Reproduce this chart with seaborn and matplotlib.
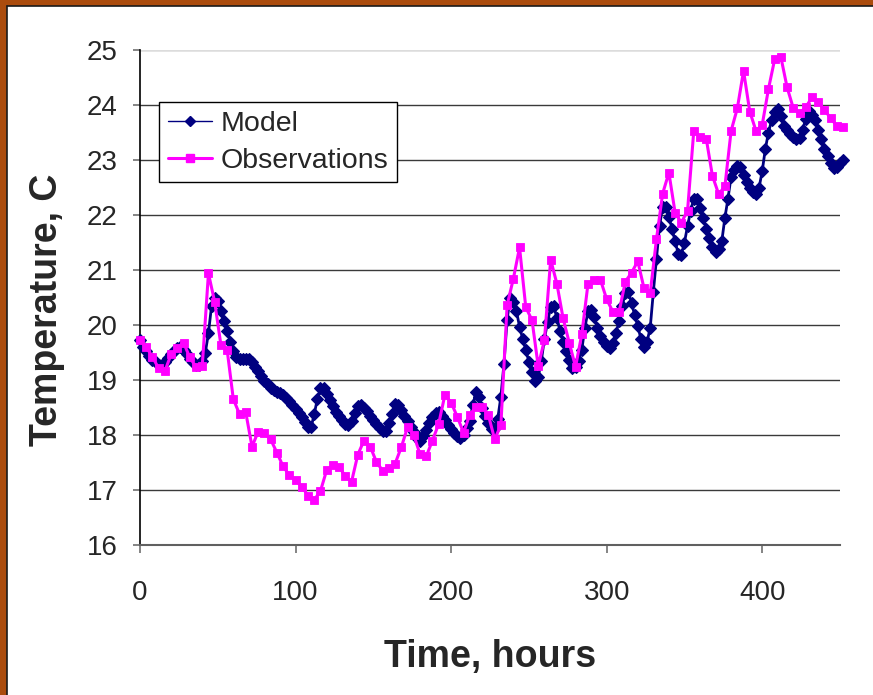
import numpy as np
import pandas as pd
import matplotlib
matplotlib.use("Agg")
import matplotlib.pyplot as plt
from matplotlib.patches import Rectangle
from matplotlib.lines import Line2D
import seaborn as sns

# ---------------- data ----------------
obs_step = 4      # hours between observations
model_step = 2    # hours between model outputs

observations = [
    19.72, 19.60, 19.42, 19.21, 19.16, 19.47, 19.58, 19.68, 19.41, 19.24,
    19.25, 20.94, 20.42, 19.64, 19.55, 18.65, 18.38, 18.41, 17.79, 18.06,
    18.03, 17.92, 17.68, 17.43, 17.27, 17.18, 17.06, 16.90, 16.82, 16.98,
    17.36, 17.45, 17.42, 17.25, 17.15, 17.64, 17.90, 17.79, 17.51, 17.35,
    17.40, 17.48, 17.78, 18.14, 18.00, 17.65, 17.61, 17.90, 18.20, 18.73,
    18.59, 18.33, 18.04, 18.37, 18.51, 18.51, 18.36, 17.92, 18.18, 20.36,
    20.84, 21.41, 20.32, 20.09, 19.25, 19.73, 21.19, 20.75, 20.12, 19.67,
    19.24, 19.83, 20.75, 20.81, 20.82, 20.47, 20.24, 20.24, 20.79, 20.95,
    21.16, 20.67, 20.58, 21.56, 22.39, 22.77, 22.04, 21.86, 22.08, 23.53,
    23.41, 23.39, 22.71, 22.38, 22.52, 23.53, 23.94, 24.62, 23.88, 23.53,
    23.64, 24.29, 24.83, 24.87, 24.32, 23.94, 23.85, 23.96, 24.14, 24.06,
    23.91, 23.76, 23.62, 23.60,
]

model = [
    19.72, 19.60, 19.52, 19.44, 19.37, 19.32, 19.28, 19.27, 19.32, 19.40,
    19.47, 19.53, 19.58, 19.60, 19.55, 19.47, 19.38, 19.32, 19.28, 19.27,
    19.35, 19.50, 19.85, 20.35, 20.50, 20.43, 20.25, 20.08, 19.90, 19.70,
    19.52, 19.42, 19.39, 19.39, 19.39, 19.38, 19.32, 19.24, 19.16, 19.08,
    18.99, 18.92, 18.86, 18.81, 18.78, 18.76, 18.72, 18.67, 18.62, 18.54,
    18.47, 18.40, 18.32, 18.24, 18.15, 18.14, 18.38, 18.65, 18.85, 18.85,
    18.75, 18.63, 18.52, 18.42, 18.35, 18.27, 18.20, 18.18, 18.26, 18.40,
    18.52, 18.55, 18.50, 18.43, 18.35, 18.27, 18.20, 18.13, 18.07, 18.08,
    18.22, 18.38, 18.57, 18.55, 18.45, 18.35, 18.25, 18.15, 18.05, 17.95,
    17.89, 17.98, 18.09, 18.22, 18.32, 18.40, 18.42, 18.35, 18.27, 18.18,
    18.10, 18.03, 17.98, 17.94, 18.00, 18.12, 18.25, 18.55, 18.78, 18.70,
    18.50, 18.35, 18.22, 18.10, 18.12, 18.30, 18.70, 19.30, 20.10, 20.50,
    20.42, 20.25, 19.97, 19.75, 19.55, 19.33, 19.15, 18.98, 19.05, 19.35,
    19.75, 20.05, 20.33, 20.35, 20.12, 19.90, 19.70, 19.52, 19.36, 19.22,
    19.23, 19.35, 19.55, 19.95, 20.25, 20.28, 20.15, 19.95, 19.80, 19.70,
    19.62, 19.58, 19.68, 19.85, 20.08, 20.35, 20.58, 20.60, 20.40, 20.18,
    19.98, 19.75, 19.60, 19.70, 19.95, 20.60, 21.20, 21.80, 22.15, 22.15,
    21.97, 21.75, 21.52, 21.30, 21.28, 21.50, 21.80, 22.08, 22.30, 22.30,
    22.12, 21.95, 21.75, 21.58, 21.42, 21.33, 21.38, 21.52, 21.95, 22.30,
    22.70, 22.82, 22.90, 22.88, 22.72, 22.60, 22.50, 22.42, 22.38, 22.50,
    22.80, 23.20, 23.50, 23.72, 23.88, 23.92, 23.80, 23.62, 23.55, 23.48,
    23.42, 23.38, 23.40, 23.55, 23.75, 23.90, 23.82, 23.72, 23.55, 23.38,
    23.20, 23.08, 22.95, 22.85, 22.88, 22.95, 23.00,
]

obs_time = np.arange(len(observations)) * obs_step
model_time = np.arange(len(model)) * model_step

x_ticks = [0, 100, 200, 300, 400]
y_ticks = list(range(16, 26))
series_names = ["Model", "Observations"]
x_label = "Time, hours"
y_label = "Temperature, C"

df_model = pd.DataFrame({"t": model_time, "T": model})
df_obs = pd.DataFrame({"t": obs_time, "T": observations})

# ---------------- style ----------------
sns.set_theme(style="white")
REG = ["Liberation Sans", "DejaVu Sans"]
plt.rcParams["font.family"] = REG

W, H = 873, 695
BROWN = "#AB4C0D"
fig = plt.figure(figsize=(W / 100, H / 100), dpi=100, facecolor=BROWN)
bg = Rectangle((7 / W, 0), 1 - 7 / W, (H - 6) / H, transform=fig.transFigure,
               facecolor="white", edgecolor="none", zorder=-10)
fig.add_artist(bg)
fig.add_artist(Line2D([7 / W, 7 / W], [0, (H - 6) / H], transform=fig.transFigure,
                      color="#1a1a1a", lw=1.2, zorder=-9))
fig.add_artist(Line2D([7 / W, 1], [(H - 6) / H, (H - 6) / H], transform=fig.transFigure,
                      color="#1a1a1a", lw=1.2, zorder=-9))

ax = fig.add_axes([140 / W, 150 / H, 700 / W, 495 / H])
ax.set_facecolor("white")

NAVY = "#000080"
MAG = "#FF00FF"

sns.lineplot(data=df_model, x="t", y="T", ax=ax, estimator=None, sort=False,
             color=NAVY, linewidth=2.0, marker="D", markersize=6.6,
             markeredgecolor=NAVY, markeredgewidth=0.8, markerfacecolor=NAVY,
             clip_on=False, zorder=3, legend=False)
sns.lineplot(data=df_obs, x="t", y="T", ax=ax, estimator=None, sort=False,
             color=MAG, linewidth=2.2, marker="s", markersize=6.4,
             markeredgecolor=MAG, markeredgewidth=0.6, markerfacecolor=MAG,
             clip_on=False, zorder=4, legend=False)

ax.set_xlim(0, 450)
ax.set_ylim(16, 25)
ax.set_xticks(x_ticks)
ax.set_yticks(y_ticks)
ax.set_xticklabels([str(v) for v in x_ticks], fontsize=20)
ax.set_yticklabels([str(v) for v in y_ticks], fontsize=20)
ax.set_xlabel("")
ax.set_ylabel("")

ax.grid(axis="y", color="#3a3a3a", linewidth=1.0, zorder=0)
ax.grid(axis="x", visible=False)
ax.set_axisbelow(True)
gls = ax.get_ygridlines()
gls[-1].set_color("#dcdcdc")
gls[-1].set_linewidth(1.8)

for s in ["top", "right"]:
    ax.spines[s].set_visible(False)
ax.spines["left"].set_color("black")
ax.spines["left"].set_linewidth(1.2)
ax.spines["bottom"].set_color("#606060")
ax.spines["bottom"].set_linewidth(1.5)

ax.tick_params(axis="y", direction="out", length=5, width=1.2, color="#707070",
               pad=11, left=True)
ax.tick_params(axis="x", direction="out", length=6, width=1.2, color="#707070",
               pad=19, bottom=True)

fig.text(490 / W, (H - 667) / H, x_label, ha="center", va="baseline",
         fontsize=27, fontweight="bold")
fig.text(47 / W, (H - 310) / H, y_label, ha="center", va="center", rotation=90,
         fontsize=27, fontweight="bold")

handles = [
    Line2D([], [], color=NAVY, lw=1.0, marker="D", markersize=5.5,
           markerfacecolor=NAVY, markeredgecolor=NAVY),
    Line2D([], [], color=MAG, lw=2.2, marker="s", markersize=5.5,
           markerfacecolor=MAG, markeredgecolor=MAG),
]
leg = ax.legend(handles, series_names, loc="upper left",
                bbox_to_anchor=(159 / W, (H - 102) / H),
                bbox_transform=fig.transFigure, borderaxespad=0,
                frameon=True, fancybox=False, shadow=False, framealpha=1,
                edgecolor="black", facecolor="white",
                prop={"size": 20.5},
                handlelength=1.55, handletextpad=0.3, borderpad=0.3,
                labelspacing=0.4)
leg.get_frame().set_linewidth(1.0)
leg.set_zorder(10)

fig.savefig("out.png", dpi=100, facecolor=fig.get_facecolor())
